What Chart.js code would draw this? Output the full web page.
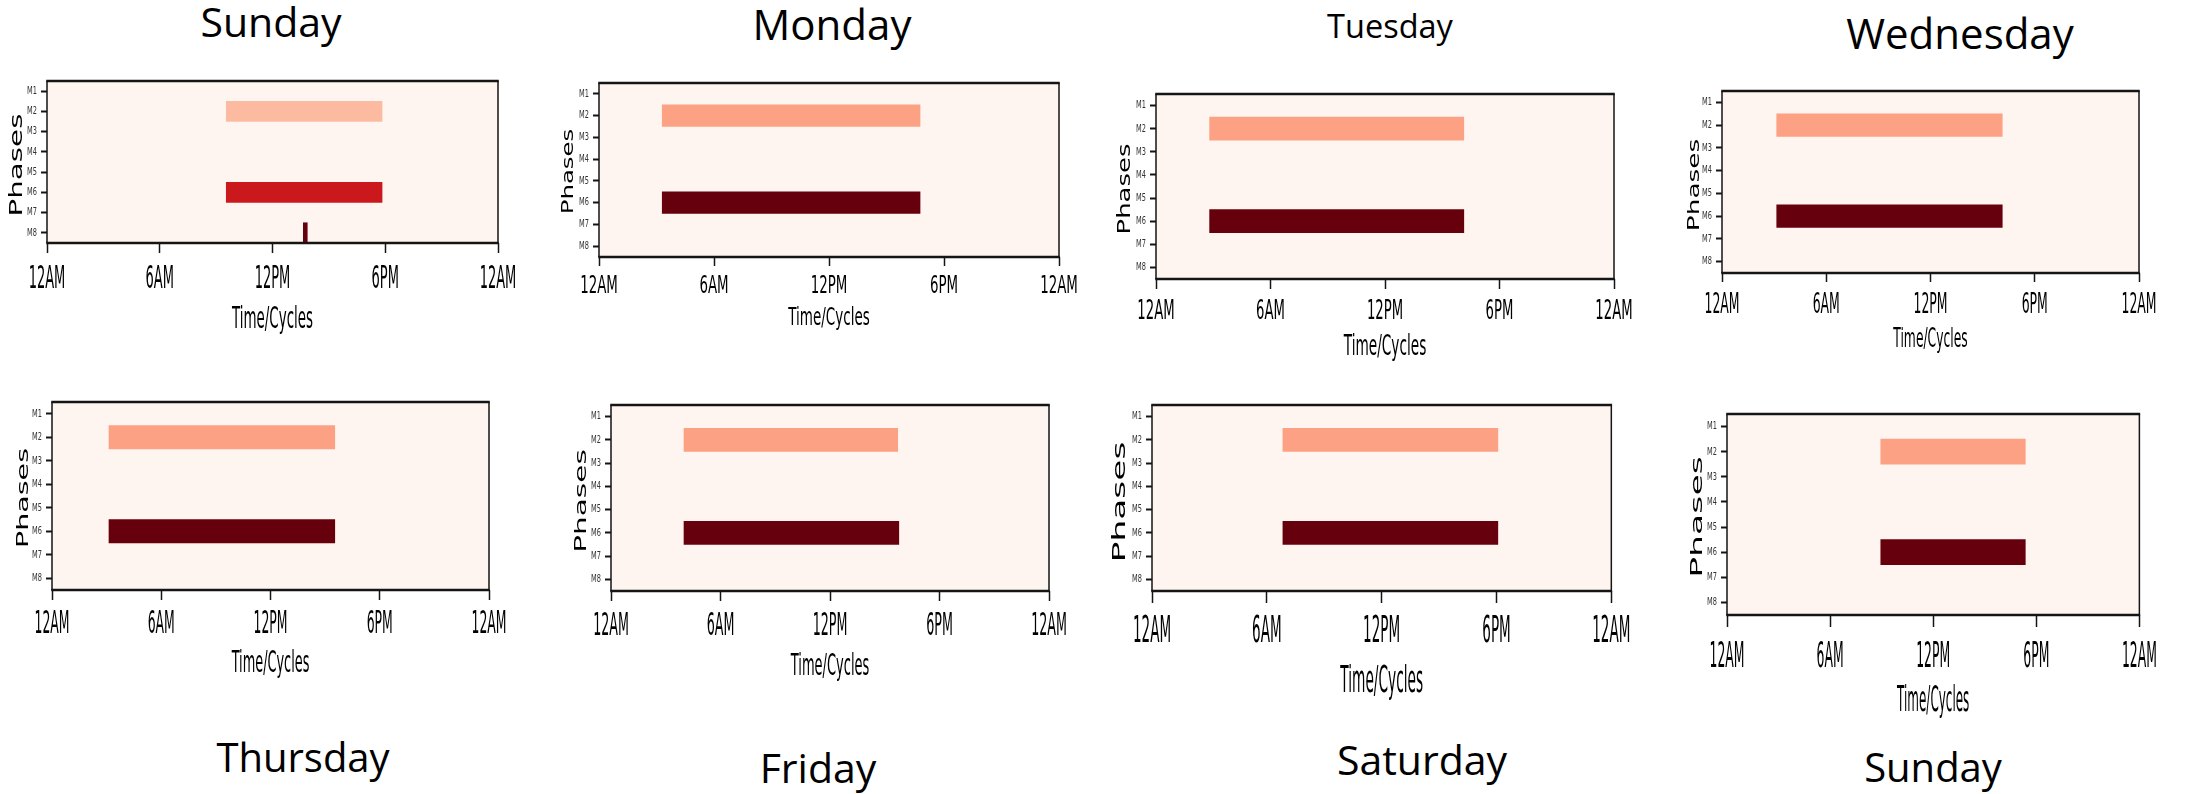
<!DOCTYPE html>
<html>
<head>
<meta charset="utf-8">
<title>Weekly phase activity</title>
<script src="https://cdn.jsdelivr.net/npm/chart.js@4.4.1/dist/chart.umd.min.js"></script>
<style>
  html, body { margin: 0; padding: 0; background: #fff; overflow: hidden; }
  #page { position: relative; width: 2197px; height: 794px; overflow: hidden; background: #fff; }
  .panel { position: absolute; }
  .day {
    position: absolute;
    font-family: "Open Sans", "DejaVu Sans", sans-serif;
    color: #000;
    white-space: nowrap;
    line-height: 1;
    transform: translateX(-50%);
  }
</style>
</head>
<body>
<div id="page"></div>
<script>
// ---- data -------------------------------------------------------------
const dayTitles = ['Sunday', 'Monday', 'Tuesday', 'Wednesday', 'Thursday', 'Friday', 'Saturday', 'Sunday'];
const phaseLabels = ['M1', 'M2', 'M3', 'M4', 'M5', 'M6', 'M7', 'M8'];
const timeTickHours = [0, 6, 12, 18, 24];
const timeTickLabels = ['12AM', '6AM', '12PM', '6PM', '12AM'];

// active intervals (hour of day) and heat level, one entry per day
const m2Start = [9.54, 3.30, 2.81, 3.15, 3.13, 4.00, 6.84, 8.95];
const m2End   = [17.83, 16.75, 16.13, 16.13, 15.53, 15.71, 18.07, 17.36];
const m2Level = [0.25, 0.33, 0.33, 0.33, 0.33, 0.33, 0.33, 0.33];

const m6Start = [9.54, 3.30, 2.81, 3.15, 3.13, 4.00, 6.84, 8.95];
const m6End   = [17.83, 16.75, 16.13, 16.13, 15.53, 15.77, 18.07, 17.36];
const m6Level = [0.75, 1, 1, 1, 1, 1, 1, 1];

const m8Start = [13.64, null, null, null, null, null, null, null];
const m8End   = [13.85, null, null, null, null, null, null, null];
const m8Level = [1, null, null, null, null, null, null, null];

// ---- panel geometry (plot box l, t, r, b) and text sizing -------------
const panels = [
  { box: [47, 81, 498, 243],     tick: { size: 29.8, sx: 0.437, cy: 277.5, len: 10 }, xt: { size: 27.4, sx: 0.49, cy: 318 },   yt: { size: 18.2, k: 1.565, cx: 15.5, dy: 3 },    title: { cx: 271,  base: 37,  size: 41 } },
  { box: [599, 83, 1059, 257],   tick: { size: 22.9, sx: 0.584, cy: 285,   len: 9 },  xt: { size: 22.9, sx: 0.59, cy: 316.7 }, yt: { size: 16.0, k: 1.48,  cx: 567.5, dy: 1.5 }, title: { cx: 832,  base: 40,  size: 42 } },
  { box: [1156, 94, 1614, 279],  tick: { size: 24.3, sx: 0.545, cy: 310.5, len: 10 }, xt: { size: 26.0, sx: 0.526, cy: 345.5 }, yt: { size: 16.9, k: 1.49, cx: 1124.5, dy: 2.5 }, title: { cx: 1390, base: 39,  size: 32.5 } },
  { box: [1722, 91, 2139, 273],  tick: { size: 26.5, sx: 0.469, cy: 303,   len: 9 },  xt: { size: 23.7, sx: 0.52, cy: 338.7 }, yt: { size: 16.0, k: 1.6,   cx: 1694, dy: 3 },    title: { cx: 1960, base: 49,  size: 42 } },
  { box: [52, 402, 489, 590],    tick: { size: 28.4, sx: 0.437, cy: 623,   len: 10 }, xt: { size: 27.4, sx: 0.47, cy: 661.7 }, yt: { size: 16.5, k: 1.68,  cx: 22, dy: 2 },      title: { cx: 303,  base: 773, size: 40 } },
  { box: [611, 405, 1049, 591],  tick: { size: 28.8, sx: 0.44,  cy: 624.5, len: 10 }, xt: { size: 27.4, sx: 0.475, cy: 665 },  yt: { size: 15.1, k: 1.9,   cx: 580.5, dy: 3 },   title: { cx: 818,  base: 783, size: 41 } },
  { box: [1152, 405, 1615, 591], tick: { size: 33.9, sx: 0.40,  cy: 630,   len: 12 }, xt: { size: 34.3, sx: 0.40, cy: 679 },    yt: { size: 17.4, k: 1.92,  cx: 1119.5, dy: 4 },  title: { cx: 1422, base: 775, size: 41 } },
  { box: [1727, 414, 2142, 615], tick: { size: 32.0, sx: 0.388, cy: 655,   len: 12 }, xt: { size: 31.5, sx: 0.38, cy: 699 },    yt: { size: 15.1, k: 2.23,  cx: 1697, dy: 2.5 },  title: { cx: 1933, base: 783, size: 40 } }
];

const Y_AXIS_W = 80, PAD_R = 60, PAD_T = 10, X_AXIS_H = 110;
const TEXT_GROW = 1.1;      // glyph height correction for the axis text
const MID_SHIFT = 0.074;    // canvas 'middle' baseline sits slightly above the cap centre

// matplotlib "Reds" colour map
const redsStops = [
  [0.000, [255, 245, 240]], [0.125, [254, 224, 210]], [0.250, [252, 187, 161]],
  [0.375, [252, 146, 114]], [0.500, [251, 106, 74]],  [0.625, [239, 59, 44]],
  [0.750, [203, 24, 29]],   [0.875, [165, 15, 21]],   [1.000, [103, 0, 13]]
];
function reds(v) {
  for (let i = 1; i < redsStops.length; i++) {
    const [p1, c1] = redsStops[i];
    const [p0, c0] = redsStops[i - 1];
    if (v <= p1) {
      const t = (v - p0) / (p1 - p0);
      const c = c0.map((a, j) => Math.round(a + (c1[j] - a) * t));
      return `rgb(${c[0]},${c[1]},${c[2]})`;
    }
  }
  return 'rgb(103,0,13)';
}

// Axis text is printed narrow and tall; scale glyphs around their anchor (with optional nudge).
function condenseText(ctx, table) {
  const fill = ctx.fillText;
  ctx.fillText = function (text, x, y) {
    const f = table[text];
    if (!f) return fill.call(this, text, x, y);
    this.save();
    this.translate(x + (f[2] || 0), y + (f[3] || 0));
    this.scale(f[0], f[1]);
    fill.call(this, text, 0, 0);
    this.restore();
  };
}

// Heat-map background and the black frame around the plot box
const plotFrame = {
  id: 'plotFrame',
  beforeDatasetsDraw(chart) {
    const { ctx, chartArea: a } = chart;
    ctx.save();
    ctx.fillStyle = reds(0);
    ctx.fillRect(a.left, a.top, a.right - a.left, a.bottom - a.top);
    ctx.restore();
  },
  afterDraw(chart) {
    const { ctx, chartArea: a } = chart;
    ctx.save();
    ctx.strokeStyle = '#151515';
    ctx.lineWidth = 1.5;
    ctx.beginPath();
    ctx.moveTo(a.left, a.top); ctx.lineTo(a.left, a.bottom);
    ctx.moveTo(a.right, a.top); ctx.lineTo(a.right, a.bottom);
    ctx.stroke();
    ctx.lineWidth = 2.5;
    ctx.beginPath();
    ctx.moveTo(a.left - 0.75, a.top); ctx.lineTo(a.right + 0.75, a.top);
    ctx.moveTo(a.left - 0.75, a.bottom); ctx.lineTo(a.right + 0.75, a.bottom);
    ctx.stroke();
    ctx.restore();
  }
};

const page = document.getElementById('page');

panels.forEach((p, d) => {
  const [L, T, R, B] = p.box;

  // day heading
  const h = document.createElement('div');
  h.className = 'day';
  h.textContent = dayTitles[d];
  h.style.fontSize = p.title.size + 'px';
  h.style.left = p.title.cx + 'px';
  h.style.top = (p.title.base - 0.888 * p.title.size) + 'px';
  page.appendChild(h);

  // chart container sized so the plot box lands on the panel frame
  const wrap = document.createElement('div');
  wrap.className = 'panel';
  wrap.style.left = (L - Y_AXIS_W) + 'px';
  wrap.style.top = (T - PAD_T) + 'px';
  wrap.style.width = (R - L + Y_AXIS_W + PAD_R) + 'px';
  wrap.style.height = (B - T + PAD_T + X_AXIS_H) + 'px';
  const canvas = document.createElement('canvas');
  wrap.appendChild(canvas);
  page.appendChild(wrap);

  const tickSize = p.tick.size * TEXT_GROW;
  const xtSize = p.xt.size * TEXT_GROW;
  const table = {
    'Time/Cycles': [p.xt.sx / TEXT_GROW, 1],
    // rotated frame: local x runs up the page, local y runs to the right
    'Phases': [p.yt.k * 1.03, 1, -p.yt.dy, 1.3]
  };
  timeTickLabels.forEach(t => { table[t] = [p.tick.sx / TEXT_GROW, 1]; });
  phaseLabels.forEach(t => { table[t] = [0.6, 1]; });
  condenseText(canvas.getContext('2d'), table);

  const values = phaseLabels.map(() => null);
  const colors = phaseLabels.map(() => 'rgba(0,0,0,0)');
  values[1] = [m2Start[d], m2End[d]]; colors[1] = reds(m2Level[d]);
  values[5] = [m6Start[d], m6End[d]]; colors[5] = reds(m6Level[d]);
  if (m8Start[d] !== null) { values[7] = [m8Start[d], m8End[d]]; colors[7] = reds(m8Level[d]); }

  const tickPad = (p.tick.cy - B) - p.tick.len - tickSize / 2 + MID_SHIFT * tickSize;
  const xTitlePad = (B + X_AXIS_H) - p.xt.cy - xtSize / 2 - MID_SHIFT * xtSize;
  const yTitlePad = p.yt.cx - (L - Y_AXIS_W) - p.yt.size / 2;

  new Chart(canvas, {
    type: 'bar',
    data: {
      labels: phaseLabels,
      datasets: [{ data: values, backgroundColor: colors, borderWidth: 0, barPercentage: 1, categoryPercentage: 1 }]
    },
    options: {
      indexAxis: 'y', responsive: true, maintainAspectRatio: false, animation: false, events: [],
      layout: { padding: { left: 0, top: PAD_T, right: PAD_R, bottom: 0 } },
      plugins: { legend: { display: false }, tooltip: { enabled: false }, title: { display: false } },
      scales: {
        x: {
          type: 'linear', min: 0, max: 24,
          afterBuildTicks: s => { s.ticks = timeTickHours.map(v => ({ value: v })); },
          afterFit: s => { s.height = X_AXIS_H; },
          grid: { drawOnChartArea: false, drawTicks: true, tickLength: p.tick.len, tickWidth: 1.5, tickColor: '#151515', offset: false },
          border: { display: false },
          ticks: {
            autoSkip: false, maxRotation: 0, minRotation: 0, padding: tickPad, color: '#000',
            font: { family: 'DejaVu Sans', size: tickSize, lineHeight: 1 },
            callback: (v, i) => timeTickLabels[i]
          },
          title: {
            display: true, text: 'Time/Cycles', color: '#000',
            font: { family: 'DejaVu Sans', size: xtSize, lineHeight: 1 },
            padding: { top: 0, bottom: xTitlePad }
          }
        },
        y: {
          type: 'category', offset: true,
          afterFit: s => { s.width = Y_AXIS_W; },
          grid: { drawOnChartArea: false, drawTicks: true, tickLength: 6, tickWidth: 2, tickColor: '#151515', offset: false },
          border: { display: false },
          ticks: { padding: 4, color: '#333', font: { family: 'DejaVu Sans', size: 11, lineHeight: 1 } },
          title: {
            display: true, text: 'Phases', color: '#000',
            font: { family: 'DejaVu Sans', size: p.yt.size, lineHeight: 1 },
            padding: { top: yTitlePad, bottom: 0 }
          }
        }
      }
    },
    plugins: [plotFrame]
  });
});
</script>
</body>
</html>
